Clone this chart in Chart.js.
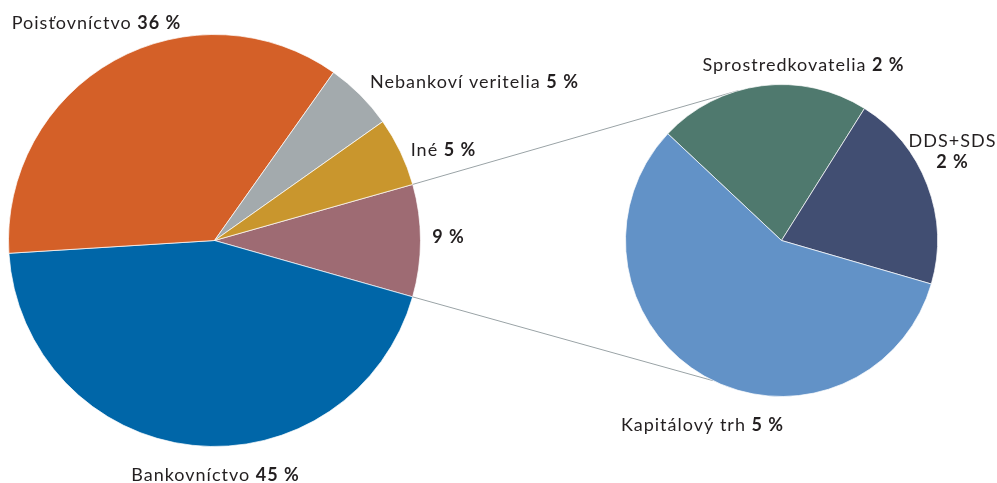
<!DOCTYPE html>
<html>
<head>
<meta charset="utf-8">
<script src="https://cdn.jsdelivr.net/npm/chart.js@4/dist/chart.umd.min.js"></script>
<style>
  html, body { margin: 0; padding: 0; background: #fff; }
  #wrap { position: relative; width: 997px; height: 483px; }
  #wrap canvas { position: absolute; left: 0; top: 0; }
</style>
</head>
<body>
<div id="wrap">
  <canvas id="main" width="997" height="483"></canvas>
  <canvas id="detail" width="997" height="483"></canvas>
</div>
<script>
// main pie (share of the sector, %)
const mainLabels = ['', 'Bankovníctvo', 'Poisťovníctvo', 'Nebankoví veritelia', 'Iné'];
const mainValues = [8.8, 44.6, 35.8, 5.4, 5.4];
const mainTexts = ['9 %', '45 %', '36 %', '5 %', '5 %'];
const mainColors = ['#9e6b73', '#0066a8', '#d46028', '#a3aaad', '#c9962d'];

// split of the 9 % slice
const detailLabels = ['Sprostredkovatelia', 'DDS+SDS', 'Kapitálový trh'];
const detailValues = [1.93, 1.81, 5.06];
const detailTexts = ['2 %', '2 %', '5 %'];
const detailColors = ['#4f796e', '#414e72', '#6292c7'];

const FONT = 'Lato, "Open Sans", sans-serif';
const TEXT_COLOR = '#231f20';

// label anchors relative to pie centre: [dx, baseline dy, twoLines]
const mainLabelPos = [[234, 2], [1, 240], [-118, -212], [260, -153], [229, -85]];
const detailLabelPos = [[22, -170], [171, -94, true], [-79, 190]];

function drawLabel(ctx, x, y, name, value, twoLines) {
  ctx.save();
  ctx.fillStyle = TEXT_COLOR;
  ctx.textBaseline = 'alphabetic';
  ctx.textAlign = 'left';
  ctx.letterSpacing = '1px';
  const reg = '18px ' + FONT;
  const bold = 'bold 18px ' + FONT;
  if (twoLines) {
    ctx.font = reg;
    const w1 = ctx.measureText(name).width;
    ctx.fillText(name, x - w1 / 2, y);
    ctx.font = bold;
    const w2 = ctx.measureText(value).width;
    ctx.fillText(value, x - w2 / 2, y + 21);
  } else {
    const prefix = name ? name + ' ' : '';
    ctx.font = reg;
    const w1 = ctx.measureText(prefix).width;
    ctx.font = bold;
    const w2 = ctx.measureText(value).width;
    const x0 = x - (w1 + w2) / 2;
    ctx.font = reg;
    ctx.fillText(prefix, x0, y);
    ctx.font = bold;
    ctx.fillText(value, x0 + w1, y);
  }
  ctx.restore();
}

const labelPlugin = {
  id: 'pieLabels',
  afterDraw(chart, args, opts) {
    const meta = chart.getDatasetMeta(0);
    const arc = meta.data[0];
    const ctx = chart.ctx;
    opts.names.forEach((name, i) => {
      const p = opts.pos[i];
      drawLabel(ctx, arc.x + p[0], arc.y + p[1], name, opts.values[i], p[2]);
    });
  }
};

// connector lines from the 9 % slice to the detail pie
const connectorPlugin = {
  id: 'connectors',
  beforeDraw(chart) {
    const src = mainChart.getDatasetMeta(0).data[0];
    const dst = chart.getDatasetMeta(0).data[0];
    const ctx = chart.ctx;
    const ends = [
      [src.startAngle, -106 * Math.PI / 180],
      [src.endAngle, 116 * Math.PI / 180]
    ];
    ctx.save();
    ctx.strokeStyle = '#9aa3a6';
    ctx.lineWidth = 1;
    ends.forEach(([a, b]) => {
      ctx.beginPath();
      ctx.moveTo(src.x + src.outerRadius * Math.cos(a), src.y + src.outerRadius * Math.sin(a));
      ctx.lineTo(dst.x + dst.outerRadius * Math.cos(b), dst.y + dst.outerRadius * Math.sin(b));
      ctx.stroke();
    });
    ctx.restore();
  }
};

const mainChart = new Chart(document.getElementById('main'), {
  type: 'pie',
  data: {
    labels: mainLabels,
    datasets: [{
      data: mainValues,
      backgroundColor: mainColors,
      borderColor: 'rgba(255,255,255,0.7)',
      borderWidth: 1
    }]
  },
  options: {
    responsive: false,
    animation: false,
    events: [],
    rotation: 74.2,
    layout: { padding: { left: 8, top: 34, right: 576, bottom: 36 } },
    plugins: {
      legend: { display: false },
      tooltip: { enabled: false },
      pieLabels: { names: mainLabels, values: mainTexts, pos: mainLabelPos }
    }
  },
  plugins: [labelPlugin]
});

new Chart(document.getElementById('detail'), {
  type: 'pie',
  data: {
    labels: detailLabels,
    datasets: [{
      data: detailValues,
      backgroundColor: detailColors,
      borderColor: 'rgba(255,255,255,0.7)',
      borderWidth: 1
    }]
  },
  options: {
    responsive: false,
    animation: false,
    events: [],
    rotation: -46.8,
    layout: { padding: { left: 625, top: 84, right: 59, bottom: 86 } },
    plugins: {
      legend: { display: false },
      tooltip: { enabled: false },
      pieLabels: { names: detailLabels, values: detailTexts, pos: detailLabelPos }
    }
  },
  plugins: [labelPlugin, connectorPlugin]
});
</script>
</body>
</html>
